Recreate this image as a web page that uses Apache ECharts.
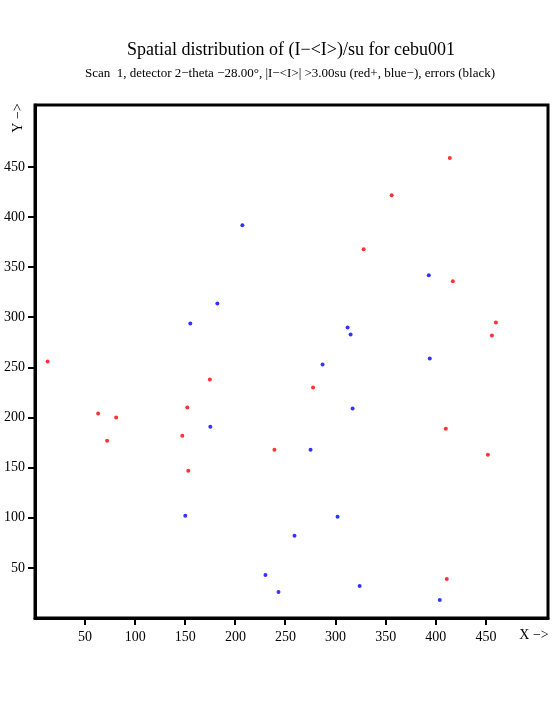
<!DOCTYPE html>
<html>
<head>
<meta charset="utf-8">
<script src="https://cdn.jsdelivr.net/npm/echarts@6/dist/echarts.min.js"></script>
<style>
html,body{margin:0;padding:0;background:#fff;}
#c{width:555px;height:725px;}
</style>
</head>
<body>
<div id="c"></div>
<script>
const titleText = 'Spatial distribution of (I\u2212<I>)/su for cebu001';
const subtitleText = 'Scan  1, detector 2\u2212theta \u221228.00\u00b0, |I\u2212<I>| >3.00su (red+, blue\u2212), errors (black)';

const xTicks = [50, 100, 150, 200, 250, 300, 350, 400, 450];
const yTicks = [50, 100, 150, 200, 250, 300, 350, 400, 450];
const axisMax = 512;
const tickStep = 50;

const redX = [12.6, 63, 81, 72, 147, 152, 153, 174.5, 239, 277.5, 328, 356, 414, 417, 460, 456, 410, 452, 411];
const redY = [256, 204, 200, 177, 182, 210, 147, 238, 168, 230, 368, 422, 459, 336, 295, 282, 189, 163, 39];

const blueX = [207, 182, 155, 175, 150, 393, 394, 312, 315, 287, 317, 275, 302, 259, 230, 243, 324, 404];
const blueY = [392, 314, 294, 191, 102, 342, 259, 290, 283, 253, 209, 168, 101, 82, 43, 26, 32, 18];

const FONT = '"Liberation Serif", "DejaVu Serif", serif';

function pairs(xs, ys) { return xs.map((x, i) => [x, ys[i]]); }

const L = 35, T = 105, S = 513;
const B = T + S;
const TICK_LEN = 7;

const chart = echarts.init(document.getElementById('c'), null, {renderer: 'canvas'});
chart.setOption({
  animation: false,
  backgroundColor: '#ffffff',
  grid: {left: L, top: T, width: S, height: S, show: true, borderColor: '#000', borderWidth: 3, containLabel: false},
  xAxis: {
    type: 'value', min: 0, max: axisMax, interval: tickStep, position: 'bottom',
    splitLine: {show: false},
    axisLine: {show: true, onZero: false, lineStyle: {color: '#000', width: 3}},
    axisTick: {show: false},
    axisLabel: {show: true, customValues: xTicks, color: '#000', fontFamily: FONT, fontSize: 14, margin: 12}
  },
  yAxis: {
    type: 'value', min: 0, max: axisMax, interval: tickStep, position: 'left',
    splitLine: {show: false},
    axisLine: {show: true, onZero: false, lineStyle: {color: '#000', width: 3}},
    axisTick: {show: false},
    axisLabel: {show: true, customValues: yTicks, color: '#000', fontFamily: FONT, fontSize: 14, margin: 10}
  },
  series: [
    {type: 'scatter', data: pairs(redX, redY), symbol: 'circle', symbolSize: 4, itemStyle: {color: '#ff0000'}, silent: true},
    {type: 'scatter', data: pairs(blueX, blueY), symbol: 'circle', symbolSize: 4, itemStyle: {color: '#0000ff'}, silent: true}
  ]
});

// tick marks placed through the chart's own scales
const tickStyle = {stroke: '#000', lineWidth: 2};
const graphics = [];
xTicks.forEach(v => {
  const px = Math.round(chart.convertToPixel({xAxisIndex: 0, yAxisIndex: 0}, [v, 0])[0]);
  graphics.push({type: 'line', z: 50, shape: {x1: px, y1: B, x2: px, y2: B + TICK_LEN}, style: tickStyle, silent: true});
});
yTicks.forEach(v => {
  const py = Math.round(chart.convertToPixel({xAxisIndex: 0, yAxisIndex: 0}, [0, v])[1]);
  graphics.push({type: 'line', z: 50, shape: {x1: L - TICK_LEN, y1: py, x2: L, y2: py}, style: tickStyle, silent: true});
});
graphics.push(
  {type: 'text', z: 60, x: 291, y: 50, style: {text: titleText, font: '18px ' + FONT, fill: '#000', textAlign: 'center', textVerticalAlign: 'middle'}},
  {type: 'text', z: 60, x: 290, y: 74, style: {text: subtitleText, font: '13px ' + FONT, fill: '#000', textAlign: 'center', textVerticalAlign: 'middle'}},
  {type: 'text', z: 60, x: 18, y: 118, rotation: Math.PI / 2, style: {text: 'Y \u2212>', font: '14px ' + FONT, fill: '#000', textAlign: 'center', textVerticalAlign: 'middle'}},
  {type: 'text', z: 60, x: 534, y: 635, style: {text: 'X \u2212>', font: '14px ' + FONT, fill: '#000', textAlign: 'center', textVerticalAlign: 'middle'}}
);
chart.setOption({graphic: graphics});
</script>
</body>
</html>
